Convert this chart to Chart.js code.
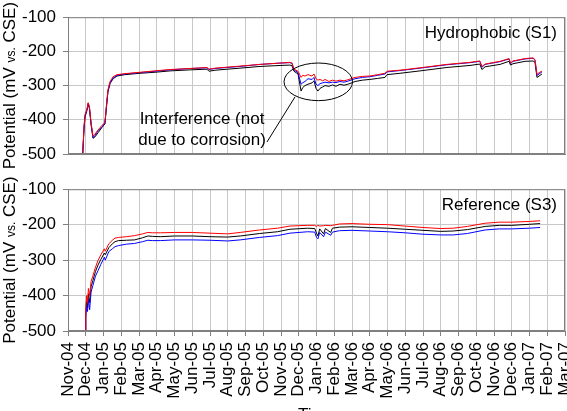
<!DOCTYPE html>
<html>
<head>
<meta charset="utf-8">
<script src="https://cdn.jsdelivr.net/npm/chart.js@4.4.0/dist/chart.umd.min.js"></script>
<style>
html, body { margin: 0; padding: 0; background: #fff; overflow: hidden; }
canvas { display: block; position: absolute; left: 0; }
#top { top: 0; }
#bottom { top: 172px; }
</style>
</head>
<body>
<canvas id="top" width="567" height="172"></canvas>
<canvas id="bottom" width="567" height="254"></canvas>
<script>
// month ticks, x values are months counted from Nov-04
const monthLabels = ['Nov-04','Dec-04','Jan-05','Feb-05','Mar-05','Apr-05','May-05','Jun-05','Jul-05',
  'Aug-05','Sep-05','Oct-05','Nov-05','Dec-05','Jan-06','Feb-06','Mar-06','Apr-06','May-06','Jun-06',
  'Jul-06','Aug-06','Sep-06','Oct-06','Nov-06','Dec-06','Jan-07','Feb-07','Mar-07'];
const yTicks = [-500, -400, -300, -200, -100];

// Hydrophobic (S1)
const s1Time = [0.83,0.90,0.96,1.07,1.14,1.21,1.30,1.41,1.52,1.69,1.92,2.08,2.17,2.25,2.37,2.54,2.76,3.21,4.06,4.90,
  5.75,6.87,7.83,7.94,8.28,9.69,10.82,12.00,12.50,12.62,12.73,12.96,13.13,13.22,13.35,13.52,13.75,13.86,13.97,14.08,
  14.20,14.35,14.48,14.70,14.90,15.10,15.32,15.55,15.77,16.17,16.60,17.00,17.45,17.86,17.97,18.70,19.83,21.35,22.65,23.20,
  23.32,23.50,24.34,24.85,24.93,25.07,25.75,26.20,26.31,26.42,26.54,26.70];
const s1Red = [-500,-420,-385,-368,-350,-362,-408,-448,-442,-430,-416,-408,-355,-312,-288,-274,-268,-265,-261,-257,
  -253,-250,-247,-252,-249,-243,-238,-234,-232,-234,-252,-258,-276,-270,-272,-268,-272,-266,-280,-284,
  -282,-286,-282,-288,-284,-287,-284,-286,-283,-276,-273,-272,-268,-264,-258,-255,-248,-238,-232,-228,
  -244,-237,-229,-221,-234,-228,-221,-219,-224,-268,-262,-258];
const s1Blue = [-500,-425,-388,-370,-352,-366,-412,-452,-446,-432,-420,-410,-358,-316,-292,-278,-270,-266,-262,-258,
  -254,-250,-248,-253,-250,-244,-238,-234,-233,-235,-254,-262,-296,-292,-288,-280,-282,-276,-296,-300,
  -294,-292,-290,-292,-290,-291,-288,-290,-287,-280,-276,-274,-270,-266,-260,-256,-249,-239,-233,-229,
  -246,-238,-230,-222,-236,-229,-222,-220,-226,-270,-266,-260];
const s1Black = [-500,-430,-392,-372,-352,-368,-414,-454,-450,-438,-422,-412,-362,-318,-294,-280,-272,-268,-264,-261,
  -257,-254,-252,-258,-255,-249,-244,-241,-240,-242,-258,-266,-316,-306,-300,-296,-292,-286,-308,-316,
  -308,-304,-300,-302,-298,-302,-296,-299,-296,-288,-284,-282,-279,-276,-268,-264,-257,-247,-241,-237,
  -253,-245,-238,-229,-240,-236,-229,-228,-232,-276,-272,-266];

// Reference (S3)
const s3Time = [0.96,1.00,1.05,1.10,1.15,1.22,1.30,1.40,1.55,1.69,1.85,2.05,2.10,2.30,2.50,2.65,2.85,3.30,3.75,4.20,
  4.50,4.75,5.20,6.00,7.00,8.00,9.00,9.70,10.80,11.80,12.50,13.50,13.90,14.00,14.08,14.18,14.40,14.50,14.80,14.90,
  15.30,16.00,17.00,18.00,19.00,20.00,21.00,21.70,22.50,23.50,24.30,25.00,26.00,26.60];
const s3Red = [-498,-440,-400,-420,-380,-400,-360,-345,-320,-301,-285,-268,-275,-254,-244,-238,-236,-234,-231,-226,
  -222,-223,-223,-222,-222,-224,-226,-222,-215,-210,-204,-202,-202,-205,-202,-204,-203,-202,-203,-202,
  -198,-197,-199,-200,-204,-208,-211,-210,-205,-196,-193,-193,-191,-189];
const s3Blue = [-500,-460,-430,-445,-410,-440,-390,-372,-345,-330,-312,-292,-300,-276,-268,-262,-259,-255,-253,-248,
  -244,-245,-245,-243,-243,-244,-246,-243,-236,-231,-224,-220,-221,-236,-240,-222,-234,-221,-230,-221,
  -217,-216,-218,-220,-223,-227,-229,-229,-225,-215,-212,-212,-210,-208];
const s3Black = [-500,-450,-415,-435,-395,-420,-375,-358,-332,-314,-298,-280,-285,-265,-254,-248,-245,-244,-243,-237,
  -232,-233,-234,-232,-232,-234,-235,-232,-225,-220,-213,-210,-211,-224,-232,-212,-226,-211,-222,-210,
  -207,-206,-208,-210,-213,-216,-219,-218,-214,-205,-202,-202,-199,-197];

const FONT = "'Liberation Sans', Arial, sans-serif";
const GRID = '#c8c8c8';
const FRAME = '#808080';

function pts(t, v) {
  return t.map((x, i) => ({ x: x, y: v[i] }));
}

// frame, y title (with the small "vs.") and the text notes
function decorations(notes) {
  return {
    id: 'decor',
    afterDraw(chart) {
      const ctx = chart.ctx;
      const a = chart.chartArea;
      const xs = chart.scales.x, ys = chart.scales.y;
      ctx.save();
      ctx.strokeStyle = FRAME;
      ctx.lineWidth = 1;
      ctx.strokeRect(a.left + 0.5, a.top + 0.5, a.right - a.left - 1, a.bottom - a.top - 1);

      // y axis title
      const parts = [['Potential (mV ', 17], ['vs.', 12], [' CSE)', 17]];
      let total = 0;
      parts.forEach(p => { ctx.font = p[1] + 'px ' + FONT; total += ctx.measureText(p[0]).width; });
      ctx.translate(15, (a.top + a.bottom) / 2);
      ctx.rotate(-Math.PI / 2);
      ctx.fillStyle = '#000';
      ctx.textBaseline = 'alphabetic';
      ctx.textAlign = 'left';
      let px = -total / 2;
      parts.forEach(p => {
        ctx.font = p[1] + 'px ' + FONT;
        ctx.fillText(p[0], px, 0);
        px += ctx.measureText(p[0]).width;
      });
      ctx.restore();

      ctx.save();
      ctx.fillStyle = '#000';
      ctx.font = '17px ' + FONT;
      ctx.textBaseline = 'middle';
      ctx.textAlign = 'right';
      ctx.fillText(notes.label, a.right - 8, a.top + 16);
      if (notes.interference) {
        const n = notes.interference;
        ctx.textAlign = 'center';
        ctx.fillText('Interference (not', xs.getPixelForValue(n.textX), ys.getPixelForValue(n.textY1));
        ctx.fillText('due to corrosion)', xs.getPixelForValue(n.textX), ys.getPixelForValue(n.textY2));
        ctx.strokeStyle = '#000';
        ctx.lineWidth = 1;
        ctx.beginPath();
        ctx.moveTo(xs.getPixelForValue(n.lineFrom[0]), ys.getPixelForValue(n.lineFrom[1]));
        ctx.lineTo(xs.getPixelForValue(n.lineTo[0]), ys.getPixelForValue(n.lineTo[1]));
        ctx.stroke();
        const cx = xs.getPixelForValue(n.center[0]);
        const cy = ys.getPixelForValue(n.center[1]);
        const rx = xs.getPixelForValue(n.center[0] + n.rx) - cx;
        const ry = cy - ys.getPixelForValue(n.center[1] + n.ry);
        ctx.beginPath();
        ctx.ellipse(cx, cy, rx, ry, 0, 0, Math.PI * 2);
        ctx.stroke();
      }
      ctx.restore();
    }
  };
}

function makeChart(id, time, red, blue, black, showX, notes) {
  const line = (data, color) => ({
    data: pts(time, data),
    borderColor: color,
    borderWidth: 1,
    pointRadius: 0,
    tension: 0,
    fill: false
  });
  return new Chart(document.getElementById(id), {
    type: 'line',
    data: {
      datasets: [line(red, '#ff0000'), line(blue, '#0000ff'), line(black, '#000000')]
    },
    options: {
      responsive: false,
      animation: false,
      events: [],
      layout: { padding: { top: showX ? 16 : 15, right: 2, bottom: 0, left: 0 } },
      plugins: { legend: { display: false }, tooltip: { enabled: false } },
      scales: {
        x: {
          type: 'linear',
          min: 0,
          max: 28,
          grid: { color: GRID, tickColor: FRAME, tickLength: 5, drawTicks: showX },
          border: { color: FRAME },
          ticks: {
            display: showX,
            stepSize: 1,
            autoSkip: false,
            maxRotation: 90,
            minRotation: 90,
            padding: 6,
            color: '#000',
            font: { family: FONT, size: 17 },
            callback: v => monthLabels[v]
          },
          title: {
            display: showX,
            text: 'Time',
            color: '#000',
            font: { family: FONT, size: 17 },
            padding: { top: 0, bottom: 0 }
          },
          afterFit: s => {
            s.height = showX ? 95 : 18;
            s.paddingLeft = 0;
            s.paddingRight = 0;
          }
        },
        y: {
          min: -500,
          max: -100,
          grid: { color: GRID, tickColor: FRAME, tickLength: 5 },
          border: { color: FRAME },
          afterBuildTicks: s => { s.ticks = yTicks.map(v => ({ value: v })); },
          ticks: {
            padding: 7,
            color: '#000',
            font: { family: FONT, size: 17 }
          },
          afterFit: s => { s.width = 68; }
        }
      }
    },
    plugins: [decorations(notes)]
  });
}

makeChart('top', s1Time, s1Red, s1Blue, s1Black, false, {
  label: 'Hydrophobic (S1)',
  interference: {
    textX: 7.55, textY1: -399, textY2: -460,
    lineFrom: [11.21, -465], lineTo: [12.79, -333],
    center: [14.1, -289], rx: 1.93, ry: 55
  }
});
makeChart('bottom', s3Time, s3Red, s3Blue, s3Black, true, { label: 'Reference (S3)' });
</script>
</body>
</html>
